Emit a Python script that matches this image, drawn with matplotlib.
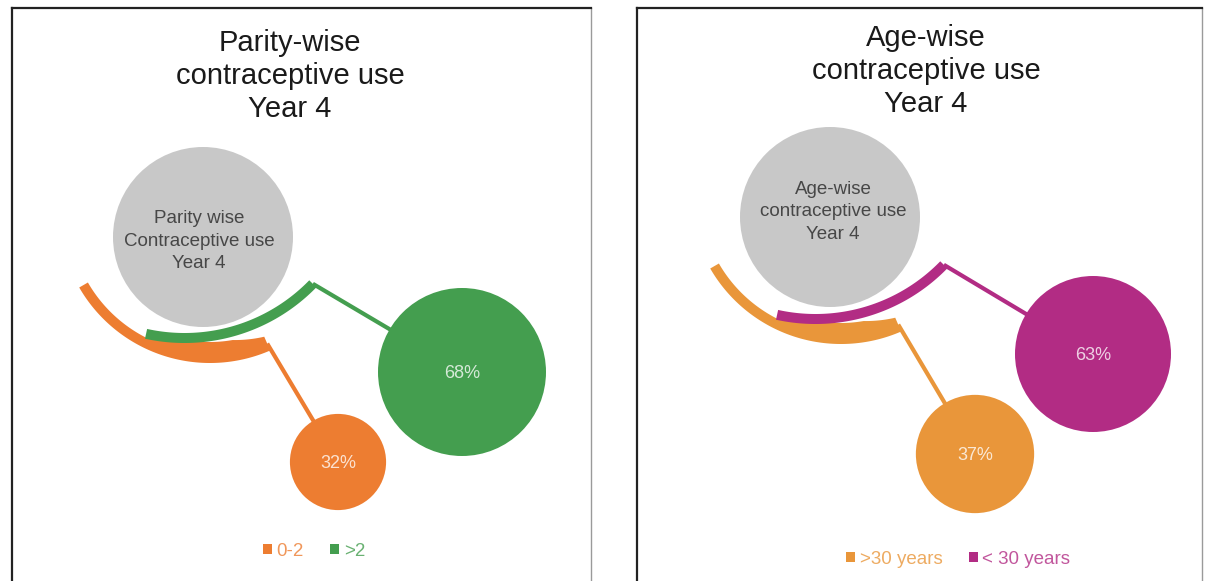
import matplotlib
matplotlib.use("Agg")
import matplotlib.pyplot as plt
from matplotlib.patches import Circle, Patch, Polygon
import numpy as np

plt.rcParams['font.family'] = ['Liberation Sans', 'DejaVu Sans']

# ---------------- data ----------------
parity_categories = ["0-2", ">2"]
parity_values = [32, 68]
age_categories = [">30 years", "< 30 years"]
age_values = [37, 63]
panel_titles = ["Parity-wise\ncontraceptive use\nYear 4",
                "Age-wise\ncontraceptive use\nYear 4"]
hub_labels = ["Parity wise\nContraceptive use\nYear 4",
              "Age-wise\ncontraceptive use\nYear 4"]

# ---------------- layout / style ----------------
W, H = 1205, 581
panels = [
    dict(box=(12, 8, 579, 573), cats=parity_categories, vals=parity_values,
         colors=["#ED7D31", "#449E4F"], title=panel_titles[0], title_xy=(278, 68),
         hub=hub_labels[0], hub_c=(191, 229), hub_r=90, hub_text_xy=(187, 233),
         arc_shift=(0, 0), bubble_xy=[(326, 454), (450, 364)],
         r_max=84, size_exp=0.74, legend_xy=(302, 543)),
    dict(box=(637, 8, 565, 573), cats=age_categories, vals=age_values,
         colors=["#E9963A", "#B22C84"], title=panel_titles[1], title_xy=(289, 63),
         hub=hub_labels[1], hub_c=(193, 209), hub_r=90, hub_text_xy=(196, 204),
         arc_shift=(6, -19), bubble_xy=[(338, 446), (456, 346)],
         r_max=78, size_exp=0.52, legend_xy=(321, 551)),
]
# first-category arc: centre, outer radius, angle span, inner radius profile over angle
outer_arc = dict(c=(198, 204), r=151, t1=66.5, t2=150.0,
                 prof_t=[66.5, 80, 105, 117, 150], prof_r=[136, 130, 130, 141, 141])
# second-category arc: centre, outer radius, width, angle span
inner_arc = dict(c=(172.5, 151), r=184, width=10, t1=44.2, t2=102.4)
hub_color = "#C8C8C8"

fig = plt.figure(figsize=(W / 100, H / 100), dpi=100)

for p in panels:
    bx, by, bw, bh = p['box']
    ax = fig.add_axes([bx / W, 1 - (by + bh) / H, bw / W, bh / H])
    ax.set_xlim(0, bw)
    ax.set_ylim(bh, 0)
    ax.set_xticks([])
    ax.set_yticks([])
    for s in ['top', 'left']:
        ax.spines[s].set_color('#222222')
        ax.spines[s].set_linewidth(1.6)
    ax.spines['right'].set_color('#9a9a9a')
    ax.spines['right'].set_linewidth(1.0)
    ax.spines['bottom'].set_visible(False)

    # title
    ax.text(p['title_xy'][0], p['title_xy'][1], p['title'], ha='center', va='center',
            fontsize=21, color='#1a1a1a', linespacing=1.21)

    # hub circle
    ax.add_patch(Circle(p['hub_c'], p['hub_r'], color=hub_color, zorder=1, lw=0))
    ax.text(p['hub_text_xy'][0], p['hub_text_xy'][1], p['hub'], ha='center', va='center',
            fontsize=13.5, color='#474747', linespacing=1.4, zorder=5)

    vals = np.array(p['vals'], dtype=float)
    vmax = vals.max()
    shift = np.array(p['arc_shift'], dtype=float)
    ends = []

    # first-category arc (band with varying inner edge)
    oc = np.array(outer_arc['c']) + shift
    tdeg = np.linspace(outer_arc['t1'], outer_arc['t2'], 150)
    rin = np.interp(tdeg, outer_arc['prof_t'], outer_arc['prof_r'])
    th = np.radians(tdeg)
    U = np.column_stack([np.cos(th), np.sin(th)])
    outer_pts = oc + outer_arc['r'] * U
    inner_pts = oc + rin[:, None] * U
    ax.add_patch(Polygon(np.vstack([outer_pts, inner_pts[::-1]]), closed=True,
                         color=p['colors'][0], lw=0, zorder=2))
    ends.append((outer_pts[0] + inner_pts[0]) / 2)

    # second-category arc
    gc = np.array(inner_arc['c']) + shift
    th = np.radians(np.linspace(inner_arc['t1'], inner_arc['t2'], 150))
    U = np.column_stack([np.cos(th), np.sin(th)])
    go = gc + inner_arc['r'] * U
    gi = gc + (inner_arc['r'] - inner_arc['width']) * U
    ax.add_patch(Polygon(np.vstack([go, gi[::-1]]), closed=True,
                         color=p['colors'][1], lw=0, zorder=3))
    ends.append((go[0] + gi[0]) / 2)

    for i, (cat, v) in enumerate(zip(p['cats'], vals)):
        col = p['colors'][i]
        bxy = p['bubble_xy'][i]
        ex, ey = ends[i]
        ax.plot([ex, bxy[0]], [ey, bxy[1]], color=col, lw=3, zorder=1.5,
                solid_capstyle='butt')
        r = p['r_max'] * (v / vmax) ** p['size_exp']
        ax.add_patch(Circle(bxy, r, color=col, lw=0, zorder=4))
        ax.text(bxy[0], bxy[1], f"{int(v)}%", ha='center', va='center_baseline',
                fontsize=13, color='white', alpha=0.78, zorder=6)

    handles = [Patch(facecolor=c, edgecolor='none') for c in p['colors']]
    leg = ax.legend(handles, p['cats'], loc='center', bbox_to_anchor=p['legend_xy'],
                    bbox_transform=ax.transData, ncol=2, frameon=False, fontsize=13.5,
                    handlelength=0.48, handleheight=0.48, handletextpad=0.25,
                    columnspacing=1.4, borderpad=0)
    for t, c in zip(leg.get_texts(), p['colors']):
        t.set_color(c)
        t.set_alpha(0.8)

fig.savefig("out.png", dpi=100)
